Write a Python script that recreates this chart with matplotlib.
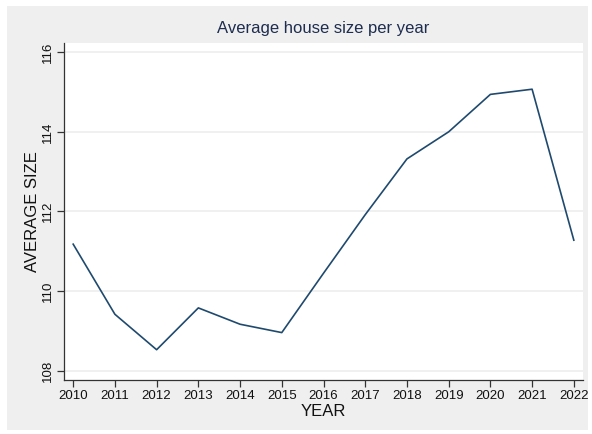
import matplotlib
matplotlib.use("Agg")
import matplotlib.pyplot as plt
from matplotlib.patches import Rectangle

plt.rcParams['font.family'] = ['Liberation Sans', 'DejaVu Sans']

years = [2010, 2011, 2012, 2013, 2014, 2015, 2016, 2017, 2018, 2019, 2020, 2021, 2022]
avg_size = [111.18, 109.42, 108.53, 109.58, 109.17, 108.96, 110.45, 111.92, 113.32, 114.0, 114.94, 115.07, 111.28]
y_ticks = [108, 110, 112, 114, 116]

W, H = 592, 434
fig = plt.figure(figsize=(W / 100, H / 100), dpi=100, facecolor='white')

# light gray graph region behind the plot
bg = Rectangle((7 / W, 1 - 430 / H), (588 - 7) / W, (430 - 6) / H,
               transform=fig.transFigure, facecolor='#efefef', edgecolor='none')
bg.set_zorder(-10)
fig.add_artist(bg)

ax = fig.add_axes([64 / W, 1 - 380 / H, (583 - 64) / W, (380 - 43) / H])
ax.set_zorder(1)
ax.set_facecolor('white')

ax.plot(years, avg_size, color='#1f4a6e', linewidth=1.2, zorder=3)

ax.set_xlim(2009.78, 2022.22)
ax.set_ylim(107.77, 116.23)
ax.set_xticks(years)
ax.set_yticks(y_ticks)
ax.set_xticklabels([str(y) for y in years], fontsize=9.5, color='#111111')
ax.set_yticklabels([str(v) for v in y_ticks], fontsize=9.5, color='#111111',
                   rotation=90, va='center')
ax.yaxis.grid(True, color='#eeeeee', linewidth=1.2, zorder=0)
ax.xaxis.grid(False)
ax.set_axisbelow(True)

for side in ('top', 'right'):
    ax.spines[side].set_visible(False)
for side in ('left', 'bottom'):
    ax.spines[side].set_color('#333333')
    ax.spines[side].set_linewidth(0.9)
ax.tick_params(axis='both', direction='out', length=5, width=0.9, color='#333333', pad=2.5)

ax.set_xlabel('YEAR', fontsize=12, color='#111111', labelpad=1.5)
ax.set_ylabel('AVERAGE SIZE', fontsize=12, color='#111111', labelpad=1)
ax.set_title('Average house size per year', fontsize=12, color='#1e2d4f', pad=7)

fig.savefig('out.png', dpi=100, facecolor='white')
